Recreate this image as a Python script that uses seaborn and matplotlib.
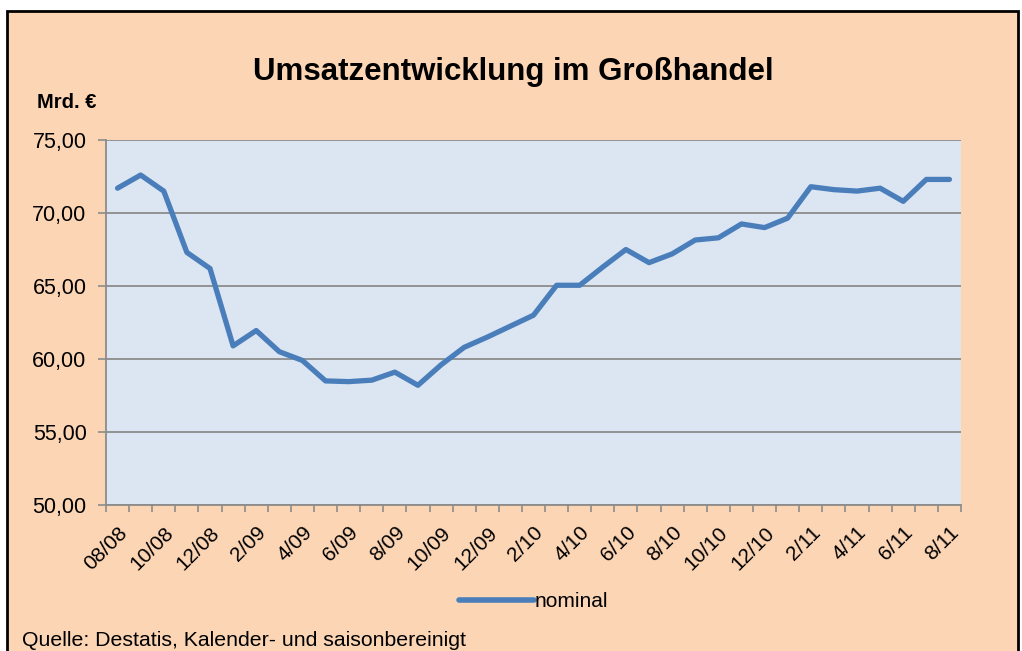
import matplotlib
matplotlib.use("Agg")
import matplotlib.pyplot as plt
import matplotlib.patches as mpatches
import seaborn as sns
import numpy as np
import pandas as pd

# monthly wholesale turnover, Aug 2008 .. Aug 2011 (bn EUR)
nominal = [71.7, 72.6, 71.5, 67.3, 66.2, 60.9, 61.95, 60.5, 59.9, 58.5,
           58.45, 58.55, 59.1, 58.2, 59.6, 60.8, 61.5, 62.25, 63.0, 65.05,
           65.05, 66.3, 67.5, 66.6, 67.2, 68.15, 68.3, 69.25, 69.0, 69.65,
           71.8, 71.6, 71.5, 71.7, 70.8, 72.3, 72.3]
tick_labels = ["08/08", "10/08", "12/08", "2/09", "4/09", "6/09", "8/09",
               "10/09", "12/09", "2/10", "4/10", "6/10", "8/10", "10/10",
               "12/10", "2/11", "4/11", "6/11", "8/11"]
y_ticks = [50, 55, 60, 65, 70, 75]

peach = "#FCD5B5"
plot_bg = "#DCE6F2"
line_col = "#4A7EBB"
grid_col = "#8C8C8C"

df = pd.DataFrame({"pos": np.arange(len(nominal)), "value": nominal})

sns.set_style("white")
plt.rcParams["font.family"] = ["Liberation Sans", "DejaVu Sans"]
plt.rcParams["text.color"] = "black"
plt.rcParams["xtick.color"] = "black"
plt.rcParams["ytick.color"] = "black"

fig = plt.figure(figsize=(10.22, 6.51), dpi=100, facecolor="white")
# chart-area frame
fig.patches.append(mpatches.Rectangle((7 / 1022, -0.05), 1011 / 1022, 1.05 - 11 / 651,
                                      transform=fig.transFigure, facecolor=peach,
                                      edgecolor="black", linewidth=2, zorder=-10))

ax = fig.add_axes([106 / 1022, 1 - 505 / 651, 855 / 1022, 365 / 651])
ax.set_facecolor(plot_bg)

sns.lineplot(data=df, x="pos", y="value", ax=ax, color=line_col, linewidth=3.8,
             label="nominal", solid_capstyle="round", solid_joinstyle="round")

n = len(nominal)
ax.set_xlim(-0.5, n - 0.5)
ax.set_ylim(50, 75)
ax.set_yticks(y_ticks)
ax.set_yticklabels([f"{v:.2f}".replace(".", ",") for v in y_ticks], fontsize=15.5)
ax.yaxis.grid(True, color=grid_col, linewidth=1.3)
ax.set_axisbelow(True)

# tick marks on category boundaries, labels on every second category
ax.set_xticks(np.arange(-0.5, n, 1.0))
ax.set_xticklabels([])
ax.set_xticks(np.arange(0, n, 2), minor=True)
ax.set_xticklabels(tick_labels, minor=True, rotation=45, ha="right",
                   rotation_mode="anchor", fontsize=15)
ax.tick_params(axis="x", which="major", direction="out", length=5, width=1.2,
               color=grid_col, bottom=True)
ax.tick_params(axis="x", which="minor", length=0, pad=13)
ax.tick_params(axis="y", direction="out", length=6, width=1.2, color=grid_col,
               left=True, pad=8)
ax.set_xlabel("")
ax.set_ylabel("")
for s in ["top", "right"]:
    ax.spines[s].set_visible(False)
for s in ["left", "bottom"]:
    ax.spines[s].set_color(grid_col)
    ax.spines[s].set_linewidth(1.3)

leg = ax.legend(loc="center", bbox_to_anchor=(0.5, -0.265), frameon=False,
                fontsize=15, handlelength=3.6, handletextpad=0.0)
leg.get_lines()[0].set_linewidth(4)

fig.text(513 / 1022, 1 - 72 / 651, "Umsatzentwicklung im Großhandel", ha="center",
         va="center", fontsize=22.5, fontweight="bold")
fig.text(37 / 1022, 1 - 103 / 651, "Mrd. €", ha="left", va="center",
         fontsize=14.5, fontweight="bold")
fig.text(22 / 1022, 1 - 641 / 651, "Quelle: Destatis, Kalender- und saisonbereinigt",
         ha="left", va="center", fontsize=15.3)

fig.savefig("out.png", dpi=100, facecolor="white")
